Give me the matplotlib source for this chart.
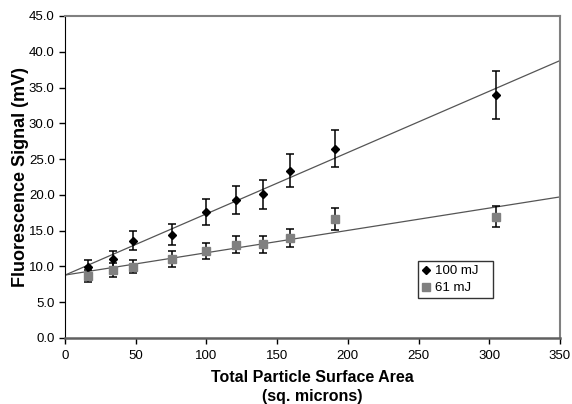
import matplotlib.pyplot as plt
import numpy as np
from matplotlib.ticker import FormatStrFormatter

plt.rcParams['font.family'] = ['Liberation Sans', 'DejaVu Sans']

# surface area (sq. microns)
area = [16, 34, 48, 76, 100, 121, 140, 159, 191, 305]

# fluorescence signal (mV)
sig_100 = [9.96, 11.04, 13.6, 14.45, 17.57, 19.28, 20.08, 23.4, 26.45, 33.96]
err_100 = [1.0, 1.15, 1.31, 1.48, 1.8, 1.9, 2.0, 2.35, 2.6, 3.4]

sig_61 = [8.7, 9.5, 9.96, 11.08, 12.2, 13.04, 13.1, 13.95, 16.6, 16.95]
err_61 = [0.87, 0.93, 0.93, 1.1, 1.14, 1.2, 1.16, 1.23, 1.5, 1.5]

fig = plt.figure(figsize=(5.72, 4.04), dpi=100)
ax = fig.add_axes([0.1136, 0.1634, 0.8654, 0.797])

# linear trendlines across the whole axis
xs = np.array([0, 350])
for sig in (sig_100, sig_61):
    k, b = np.polyfit(area, sig, 1)
    ax.plot(xs, k * xs + b, color='#555555', lw=0.9, zorder=2)

ax.errorbar(area, sig_100, yerr=err_100, fmt='D', ms=4.5, color='black',
            ecolor='black', elinewidth=1.1, capsize=3, capthick=1.1,
            label='100 mJ', zorder=3)
ax.errorbar(area, sig_61, yerr=err_61, fmt='s', ms=6, color='#808080',
            ecolor='black', elinewidth=1.1, capsize=3, capthick=1.1,
            label='61 mJ', zorder=3)

ax.set_xlim(0, 350)
ax.set_ylim(0, 45)
ax.set_xticks(np.arange(0, 351, 50))
ax.set_yticks(np.arange(0, 45.1, 5))
ax.yaxis.set_major_formatter(FormatStrFormatter('%.1f'))
ax.tick_params(direction='out', length=4, width=1, labelsize=9.5, colors='black')
ax.tick_params(axis='x', pad=4.5)

ax.spines['left'].set_color('black')
ax.spines['bottom'].set_color('#606060')
ax.spines['bottom'].set_linewidth(1.8)
for s in ('top', 'right'):
    ax.spines[s].set_color('#808080')
    ax.spines[s].set_linewidth(1.5)

ax.set_xlabel('Total Particle Surface Area\n(sq. microns)', fontsize=11.5,
              fontweight='bold', labelpad=6, linespacing=1.3)
ax.set_ylabel('Fluorescence Signal (mV)', fontsize=13, fontweight='bold',
              labelpad=0)

# legend: markers only, no error bars
handles = [plt.Line2D([], [], ls='', marker='D', ms=4, color='black'),
           plt.Line2D([], [], ls='', marker='s', ms=5.5, color='#808080')]
leg = ax.legend(handles, ['100 mJ   ', '61 mJ'], loc='upper left',
                bbox_to_anchor=(0.713, 0.239), fontsize=9.5, frameon=True,
                fancybox=False, edgecolor='black', handlelength=0.6,
                handletextpad=0.4, borderpad=0.3, labelspacing=0.38,
                borderaxespad=0)
leg.get_frame().set_linewidth(1.0)

fig.savefig('out.png', dpi=100)
